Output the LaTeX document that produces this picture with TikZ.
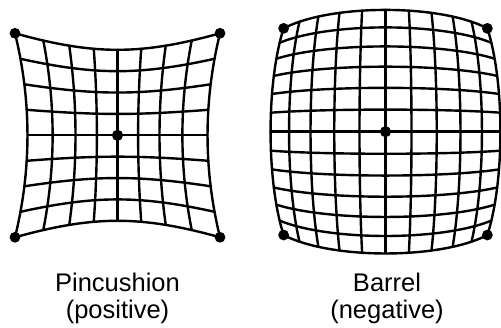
\documentclass[tikz,border=0pt]{standalone}
\usepackage{fontspec}
\setmainfont{Liberation Sans}
\begin{document}
\begin{tikzpicture}[x=1pt,y=-1pt,
  gridline/.style={line width=2.4pt, line join=round, line cap=round},
  dotmark/.style={fill=black},
  caption/.style={anchor=base, inner sep=0pt, font=\fontsize{25.5}{30}\selectfont},
  declare function={
    pxx(\a,\b)=82*\a*(1+0.098*\a*\a+0.152*\b*\b);
    pyy(\a,\b)=85.5*\b*(1+0.193*\a*\a);
    bxx(\a,\b)=130.6*\a*(1-0.12*\a*\a-0.1*\b*\b);
    byy(\a,\b)=132.8*\b*(1-0.083*\b*\b-0.139*\a*\a);
  }]
\useasboundingbox (0,0) rectangle (501,328);
% Pincushion
\begin{scope}[shift={(117.5,135.3)}]
  \foreach \i in {-4,...,4}{
    \draw[gridline] plot[domain=-1:1, samples=41, smooth, variable=\t]
      ({pxx(\t,\i/4)}, {pyy(\t,\i/4)});
    \draw[gridline] plot[domain=-1:1, samples=41, smooth, variable=\t]
      ({pxx(\i/4,\t)}, {pyy(\i/4,\t)});
  }
  \foreach \sx in {-1,1}\foreach \sy in {-1,1}
    \fill[dotmark] ({pxx(\sx,\sy)},{pyy(\sx,\sy)}) circle (5.4);
  \fill[dotmark] (0,0) circle (5.6);
\end{scope}
% Barrel
\begin{scope}[shift={(385.5,131.7)}]
  \foreach \i in {-6,...,6}{
    \draw[gridline] plot[domain=-1:1, samples=41, smooth, variable=\t]
      ({bxx(\t,\i/6)}, {byy(\t,\i/6)});
  }
  \foreach \i in {-5,...,5}{
    \draw[gridline] plot[domain=-1:1, samples=41, smooth, variable=\t]
      ({bxx(\i/5,\t)}, {byy(\i/5,\t)});
  }
  \foreach \sx in {-1,1}\foreach \sy in {-1,1}
    \fill[dotmark] ({bxx(\sx,\sy)},{byy(\sx,\sy)}) circle (5.4);
  \fill[dotmark] (0,0) circle (5.6);
\end{scope}
\node[caption] (pin1) at (117.5,292) {Pincushion};
\node[caption] (pin2) at (117.5,319) {(positive)};
\node[caption] (bar1) at (387,292) {Barrel};
\node[caption] (bar2) at (387,319) {(negative)};
\end{tikzpicture}
\end{document}
